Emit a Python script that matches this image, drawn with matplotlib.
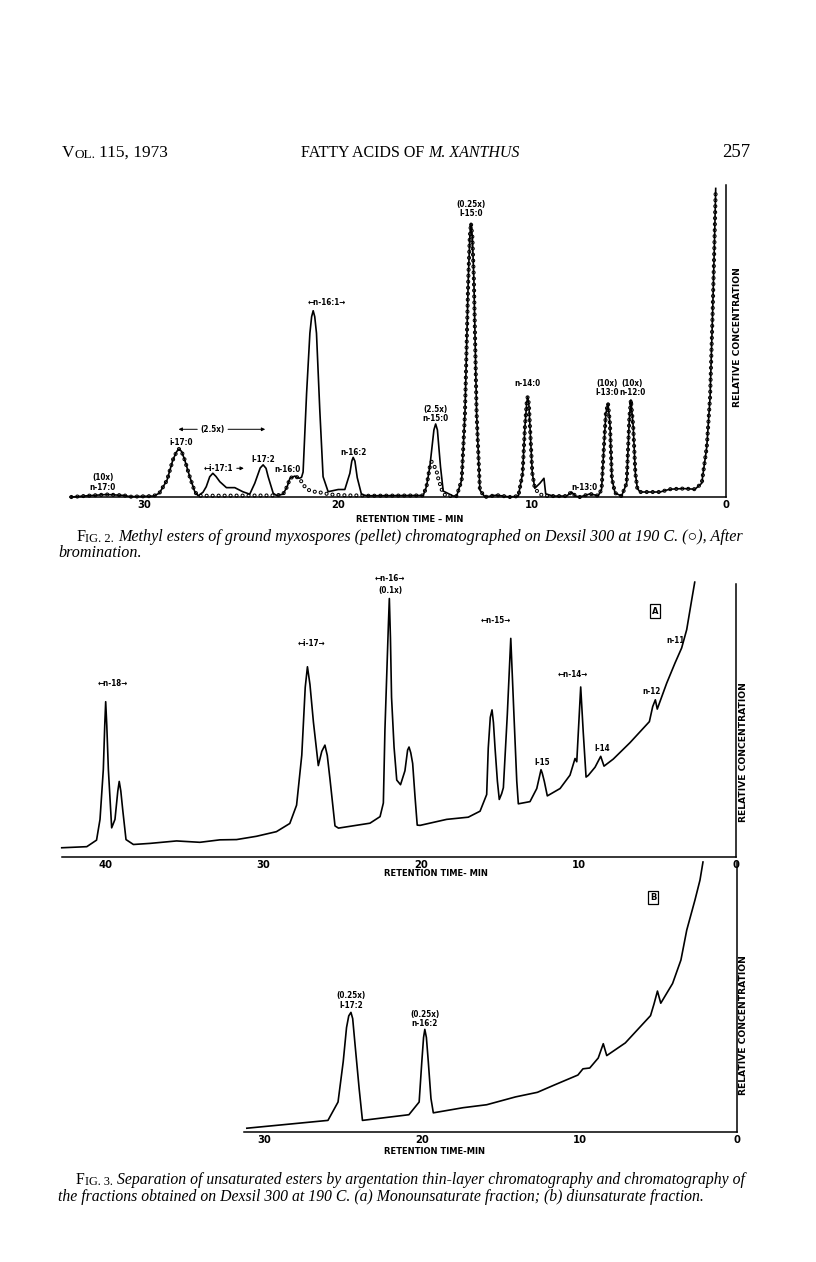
import numpy as np
import matplotlib
matplotlib.use('Agg')
import matplotlib.pyplot as plt
from matplotlib import font_manager

plt.rcParams['lines.scale_dashes'] = False

#%% Fig. 2 trace (solid line): retention time (min) and relative height (0-100)
fig2_time = [33.73, 32.9, 31.9, 31.0, 30.7, 29.5,
             29.2, 28.8, 28.5, 28.3, 28.18, 28.05, 27.89, 27.63, 27.37, 27.2,          # i-17:0
             26.95, 26.78, 26.6, 26.44, 26.28, 26.08, 25.74, 25.31, 24.9, 24.54,       # i-17:1
             24.28, 24.0, 23.85, 23.7, 23.59, 23.33, 23.16,                             # i-17:2
             22.82, 22.6, 22.47, 22.22, 21.99, 21.87, 21.79,                            # n-16:0
             21.61, 21.44, 21.35, 21.27, 21.19, 21.1, 20.93, 20.76, 20.5,               # n-16:1
             19.98, 19.64, 19.38, 19.28, 19.21, 19.12, 19.0, 18.78, 18.5,               # n-16:2
             15.6, 15.43, 15.26, 15.05, 14.96, 14.87, 14.71, 14.57, 14.05,              # n-15:0
             13.88, 13.62, 13.45, 13.28, 13.2, 13.14, 13.07, 12.99, 12.85, 12.68, 12.42,  # i-15:0
             11.82, 11.13, 10.7, 10.48, 10.36, 10.27, 10.22, 10.16, 10.1, 9.98, 9.85,  # n-14:0
             9.59, 9.38, 9.29, 8.9,
             8.21, 7.96, 7.75, 7.53, 7.01, 6.58,                                        # n-13:0
             6.41, 6.29, 6.19, 6.08, 5.98, 5.88, 5.72, 5.38,                            # i-13:0
             5.12, 4.98, 4.9, 4.78, 4.67, 4.57, 4.43,                                   # n-12:0
             3.4, 2.89, 2.2, 1.6, 1.25, 0.99, 0.82, 0.69, 0.6, 0.53]                    # solvent
fig2_conc = [0.0, 0.4, 0.8, 0.5, 0.1, 0.3,
             1.2, 5.4, 11.9, 14.6, 15.4, 14.6, 11.9, 6.5, 1.7, 0.4,
             1.5, 3.3, 6.5, 7.6, 6.6, 4.9, 3.0, 3.0, 1.7, 0.9,
             4.4, 9.3, 10.3, 9.2, 6.5, 1.2, 0.5,
             0.9, 3.5, 6.0, 6.7, 6.0, 6.3, 8.0,
             33.2, 52.5, 57.8, 59.7, 57.8, 52.5, 27.9, 6.5, 1.7,
             2.4, 2.4, 7.6, 11.5, 12.7, 11.5, 6.2, 0.8, 0.4,
             0.5, 3.4, 9.7, 21.5, 23.4, 21.5, 9.7, 1.9, 0.3,
             0.3, 5.4, 26.8, 69.6, 83.5, 87.7, 83.5, 69.6, 26.8, 2.2, 0.0,
             0.6, 0.0, 0.3, 7.6, 22.5, 30.0, 32.1, 30.0, 22.5, 7.6, 2.8,
             4.4, 6.0, 1.0, 0.3,
             0.3, 1.6, 0.3, 0.0, 1.0, 0.4,
             2.5, 16.1, 26.8, 30.0, 23.5, 6.0, 1.3, 0.3,
             4.4, 25.3, 31.1, 22.5, 7.6, 2.8, 1.6,
             1.6, 2.5, 2.7, 2.5, 4.4, 16.1, 32.1, 58.9, 80.2, 98.9]

# after bromination (open circles): stretches where the trace differs from the solid line
brom_gaps = [(27.25, 23.1), (21.92, 18.7), (15.3, 14.1), (9.8, 9.25)]
brom_time = [27.2, 23.16,
             21.87, 21.7, 21.48, 21.2, 20.86, 20.4, 19.5, 18.78,
             15.26, 15.17, 15.0, 14.88, 14.83, 14.74, 14.62, 14.45,
             9.62, 9.4]
brom_conc = [0.4, 0.5,
             4.9, 3.3, 2.2, 1.7, 1.4, 0.8, 0.5, 0.5,
             9.7, 11.3, 9.5, 7.6, 6.0, 4.2, 1.8, 0.4,
             1.0, 0.4]

#%% Fig. 3A, monounsaturate fraction
fig3a_time = [42.81, 41.22, 40.6, 40.38, 40.17, 40.08, 40.02, 39.95, 39.85, 39.64,
              39.43, 39.25, 39.16, 39.06, 38.94, 38.73, 38.26, 37.21, 35.52, 34.04,
              32.77, 31.71, 30.45, 29.18, 28.33, 27.9, 27.57, 27.35, 27.21, 27.05,
              26.83, 26.52, 26.3, 26.1, 25.95, 25.78, 25.46, 25.24, 23.24, 22.6,
              22.39, 22.29, 22.07, 22.01, 21.94, 21.87, 21.71, 21.54, 21.3, 21.02,
              20.85, 20.76, 20.65, 20.53, 20.38, 20.24, 20.06, 18.37, 17.0, 16.25,
              15.83, 15.73, 15.6, 15.49, 15.4, 15.3, 15.15, 15.03, 14.88, 14.77,
              14.52, 14.3, 14.1, 13.92, 13.82, 13.08, 12.65, 12.45, 12.38, 12.3,
              12.17, 11.98, 11.17, 10.54, 10.22, 10.11, 9.86, 9.7, 9.52, 9.38,
              8.95, 8.59, 8.38, 7.79, 6.73, 5.5, 5.29, 5.12, 5.0, 4.4,
              3.87, 3.45, 3.13, 2.81, 2.62]
fig3a_conc = [3.2, 3.6, 6.0, 13.6, 31.9, 48.0, 56.7, 48.0, 31.9, 10.5,
              13.6, 24.0, 27.5, 24.0, 17.2, 6.2, 4.4, 4.8, 5.7, 5.2,
              6.1, 6.2, 7.4, 9.1, 12.1, 18.8, 37.1, 62.0, 69.5, 63.0,
              49.2, 33.3, 38.5, 40.8, 37.0, 28.4, 11.2, 10.4, 12.2, 14.6,
              19.6, 46.4, 85.0, 94.5, 80.0, 58.3, 40.0, 28.0, 26.3, 31.4,
              39.0, 40.1, 38.0, 34.1, 21.9, 11.5, 11.4, 13.6, 14.4, 16.6,
              22.7, 39.7, 51.0, 53.7, 49.0, 39.8, 27.6, 20.9, 23.0, 25.2,
              52.0, 79.9, 52.0, 27.6, 19.3, 20.1, 24.9, 30.0, 31.8, 30.5,
              27.5, 22.2, 24.9, 29.8, 35.9, 34.7, 62.1, 45.6, 29.1, 29.7,
              32.7, 36.7, 33.1, 35.7, 41.7, 49.4, 54.9, 57.4, 54.0, 63.5,
              70.9, 76.4, 83.1, 94.1, 100.5]

#%% Fig. 3B, diunsaturate fraction
fig3b_time = [31.12, 25.97, 25.33, 25.0, 24.79, 24.65, 24.51, 24.4, 24.25, 23.99,
              23.78, 20.83, 20.18, 20.01, 19.9, 19.82, 19.72, 19.6, 19.43, 19.28,
              17.39, 15.89, 14.06, 12.67, 11.6, 10.1, 9.78, 9.35, 8.81, 8.49,
              8.27, 7.09, 5.49, 5.27, 5.05, 4.84, 4.09, 3.56, 3.19, 2.67,
              2.35, 2.16]
fig3b_conc = [1.4, 4.3, 11.1, 26.1, 38.7, 43.0, 44.3, 42.0, 32.4, 16.1,
              4.3, 6.4, 11.1, 26.1, 35.0, 38.0, 35.0, 26.1, 12.4, 7.1,
              9.0, 10.1, 13.0, 14.7, 17.4, 21.1, 23.4, 23.7, 27.4, 32.7,
              28.3, 33.0, 43.1, 47.4, 52.2, 47.7, 55.0, 63.7, 74.8, 85.9,
              93.3, 100.0]

# peak labels: (text, time, height)
fig2_labels = [('(10x)', 32.1, 6.2), ('n-17:0', 32.1, 3.1), ('i-17:0', 28.06, 17.4),
               ('I-17:2', 23.85, 12.1), ('n-16:0', 22.61, 8.9), ('n-16:2', 19.21, 14.2),
               ('(2.5x)', 14.95, 27.9), ('n-15:0', 14.95, 25.1),
               ('(0.25x)', 13.14, 93.9), ('I-15:0', 13.14, 90.9), ('n-14:0', 10.22, 36.4),
               ('n-13:0', 7.27, 3.1), ('(10x)', 6.12, 36.4), ('I-13:0', 6.12, 33.6),
               ('(10x)', 4.84, 36.4), ('n-12:0', 4.84, 33.6)]
fig3a_labels = [('\u2190n-18\u2192', 39.54, 63.4), ('\u2190i-17\u2192', 26.94, 77.9),
                ('\u2190n-16\u2192', 21.97, 102.0), ('(0.1x)', 21.97, 97.3),
                ('\u2190n-15\u2192', 15.24, 86.5), ('\u2190n-14\u2192', 10.37, 66.8),
                ('I-15', 12.3, 34.5), ('I-14', 8.49, 39.5), ('n-12', 5.35, 60.5),
                ('n-11', 3.87, 79.0)]
fig3b_labels = [('(0.25x)', 24.5, 50.6), ('I-17:2', 24.5, 46.8),
                ('(0.25x)', 19.81, 43.7), ('n-16:2', 19.81, 40.0)]

W, H = 816, 1262
fig = plt.figure(figsize=(W / 100, H / 100), dpi=100)
fig.patch.set_facecolor('white')

# whole-page axes in pixel units for the printed text
page = fig.add_axes([0, 0, 1, 1])
page.set_xlim(0, W)
page.set_ylim(H, 0)
page.axis('off')

# narrow sans for the hand lettering if there is one
fonts = font_manager.fontManager.ttflist
if any(f.name == 'Liberation Sans Narrow' for f in fonts):
    lab_font = dict(family='Liberation Sans Narrow', fontweight='bold')
    small = 6.0
elif any(f.name == 'DejaVu Sans' and f.stretch == 'condensed' for f in fonts):
    lab_font = dict(family='DejaVu Sans', fontstretch='condensed', fontweight='bold')
    small = 5.8
else:
    lab_font = dict(family='DejaVu Sans', fontweight='bold')
    small = 5.0

serif = ['Liberation Serif', 'DejaVu Serif', 'DejaVu Sans']
lab = dict(fontsize=small, ha='center', va='center', **lab_font)


def px_axes(x0, x1, ytop, ybot):
    return fig.add_axes([x0 / W, (H - ybot) / H, (x1 - x0) / W, (ybot - ytop) / H])


def chrom_axes(ax, tmax, ticks):
    ax.set_xlim(tmax, 0)
    ax.set_ylim(0, 100)
    for s in ['top', 'left']:
        ax.spines[s].set_visible(False)
    ax.spines['bottom'].set_linewidth(1.1)
    ax.spines['right'].set_linewidth(1.1)
    ax.set_yticks([])
    ax.set_xticks(ticks)
    ax.set_xticklabels([str(t) for t in ticks], family='DejaVu Sans', fontweight='bold',
                       fontsize=7.2)
    ax.tick_params(axis='x', length=0, pad=2.5)
    ax.patch.set_alpha(0)


def chain(x, y, pieces):
    # pieces: (text, size, style, gap in points); each piece starts where the last ended
    prev = None
    for s, size, style, gap in pieces:
        if prev is None:
            prev = page.text(x, y, s, fontsize=size, style=style, family=serif,
                             ha='left', va='baseline')
        else:
            prev = page.annotate(s, xy=(1, 0), xycoords=prev, xytext=(gap, 0),
                                 textcoords='offset points', fontsize=size, style=style,
                                 family=serif, ha='left', va='bottom')
    return prev


arrow = dict(arrowstyle='-|>', lw=0.7, color='k', mutation_scale=5)

#%% Fig. 2
ax2 = px_axes(70, 726, 185, 497)
chrom_axes(ax2, 33.8, [30, 20, 10, 0])

t2 = np.array(fig2_time)
v2 = np.array(fig2_conc)
keep = np.ones(len(t2), dtype=bool)
for hi, lo in brom_gaps:
    keep &= ~((t2 < hi) & (t2 > lo))
tb = np.concatenate([t2[keep], brom_time])
vb = np.concatenate([v2[keep], brom_conc])
order = np.argsort(-tb)
tb, vb = tb[order], vb[order]

# open circles spaced evenly along the brominated trace
ax2.plot(tb, vb, color='k', lw=3.0, ls=(0, (0.01, 4.3)), dash_capstyle='round', clip_on=False)
ax2.plot(tb, vb, color='w', lw=1.5, ls=(0, (0.01, 4.3)), dash_capstyle='round', clip_on=False)
ax2.plot(t2, v2, color='k', lw=1.2, clip_on=False)

for s, t, v in fig2_labels:
    ax2.text(t, v, s, clip_on=False, **lab)
ax2.text(26.13, 9.2, '\u2190i-17:1', clip_on=False, **lab)
ax2.annotate('', xy=(24.7, 9.2), xytext=(25.35, 9.2), arrowprops=arrow)
ax2.text(26.44, 21.7, '(2.5x)', clip_on=False, **lab)
ax2.annotate('', xy=(28.35, 21.7), xytext=(27.1, 21.7), arrowprops=arrow)
ax2.annotate('', xy=(23.6, 21.7), xytext=(25.8, 21.7), arrowprops=arrow)
ax2.text(20.55, 62.3, '\u2190n-16:1\u2192', clip_on=False, **lab)

#%% Fig. 3A
ax3a = px_axes(61.9, 736, 583.5, 856.5)
chrom_axes(ax3a, 42.8, [40, 30, 20, 10, 0])
ax3a.plot(fig3a_time, fig3a_conc, color='k', lw=1.2, clip_on=False)
for s, t, v in fig3a_labels:
    ax3a.text(t, v, s, clip_on=False, **lab)
ax3a.text(5.14, 89.9, 'A', clip_on=False, fontsize=6, ha='center', va='center',
          family='DejaVu Sans', fontweight='bold',
          bbox=dict(boxstyle='square,pad=0.25', fc='none', ec='k', lw=0.9))

#%% Fig. 3B
ax3b = px_axes(244, 737, 862, 1132)
chrom_axes(ax3b, 31.3, [30, 20, 10, 0])
ax3b.plot(fig3b_time, fig3b_conc, color='k', lw=1.2, clip_on=False)
for s, t, v in fig3b_labels:
    ax3b.text(t, v, s, clip_on=False, **lab)
ax3b.text(5.33, 87.0, 'B', clip_on=False, fontsize=6, ha='center', va='center',
          family='DejaVu Sans', fontweight='bold',
          bbox=dict(boxstyle='square,pad=0.25', fc='none', ec='k', lw=0.9))

#%% axis titles in page pixels
axlab = dict(family='DejaVu Sans', fontweight='bold', fontsize=6.0, ha='center', va='center')
page.text(410, 520, 'RETENTION TIME \u2013 MIN', **axlab)
page.text(436, 873, 'RETENTION TIME- MIN', **axlab)
page.text(435, 1151, 'RETENTION TIME-MIN', **axlab)
ylab = dict(axlab, fontsize=6.6)
page.text(737, 337, 'RELATIVE CONCENTRATION', rotation=90, **ylab)
page.text(744, 752, 'RELATIVE CONCENTRATION', rotation=90, **ylab)
page.text(744, 1025, 'RELATIVE CONCENTRATION', rotation=90, **ylab)

#%% running head and captions
chain(62, 157, [('V', 12.5, 'normal', 0), ('OL.', 9.5, 'normal', 0), ('115, 1973', 12.5, 'normal', 2.5)])
chain(301, 157, [('FATTY ACIDS OF', 11.5, 'normal', 0), ('M. XANTHUS', 11.5, 'italic', 3)])
page.text(750, 157, '257', fontsize=13.5, family=serif, ha='right', va='baseline')

chain(76, 541, [('F', 11.6, 'normal', 0), ('IG. 2.', 9.0, 'normal', 0),
                ('Methyl esters of ground myxospores (pellet) chromatographed on Dexsil 300 at 190 C. (\u25cb), After',
                 11.6, 'italic', 3)])
chain(58, 557, [('bromination.', 11.6, 'italic', 0)])
chain(76, 1184, [('F', 11.3, 'normal', 0), ('IG. 3.', 8.8, 'normal', 0),
                 ('Separation of unsaturated esters by argentation thin-layer chromatography and chromatography of',
                  11.3, 'italic', 3)])
chain(58, 1201, [('the fractions obtained on Dexsil 300 at 190 C. (a) Monounsaturate fraction; (b) diunsaturate fraction.',
                  11.3, 'italic', 0)])

fig.savefig('out.png', dpi=100, facecolor='white')
